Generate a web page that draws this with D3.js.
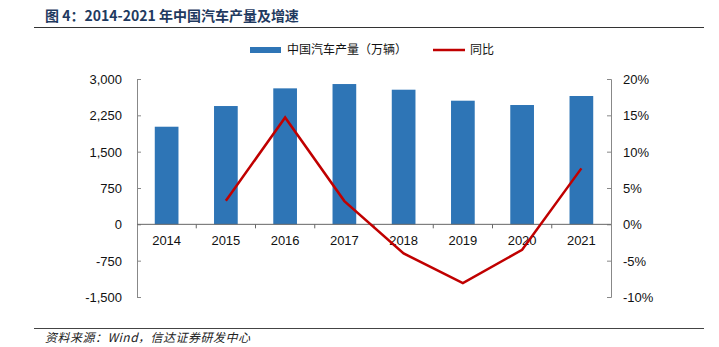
<!DOCTYPE html>
<html><head><meta charset="utf-8">
<script src="https://cdn.jsdelivr.net/npm/d3@7"></script>
<style>body{margin:0;background:#fff}svg{display:block}</style>
</head><body>
<script>
const categories = ["2014","2015","2016","2017","2018","2019","2020","2021"];
const production = [2015, 2442, 2807, 2896, 2779, 2552, 2463, 2649];
const yoy = [null, 3.25, 14.7, 3.2, -4.0, -8.1, -3.5, 7.7];
const leftTicks = [-1500, -750, 0, 750, 1500, 2250, 3000];
const rightTicks = [-10, -5, 0, 5, 10, 15, 20];
const title = "图 4：2014-2021 年中国汽车产量及增速";
const source = "资料来源：Wind，信达证券研发中心";
const legendNames = ["中国汽车产量（万辆）", "同比"];

const W = 719, H = 347;
const svg = d3.select("body").append("svg").attr("width", W).attr("height", H);
const L = 137, R = 611, T = 79, B = 297;
const font = "'Liberation Sans', Arial, sans-serif";
const cjk = "'Noto Sans CJK SC', sans-serif";

const x = d3.scaleBand().domain(categories).range([L, R]).paddingInner(0.6).paddingOuter(0.3);
const yL = d3.scaleLinear().domain([-1500, 3000]).range([B, T]);
const yR = d3.scaleLinear().domain([-10, 20]).range([B, T]);

// title
svg.append("text").attr("x", 45).attr("y", 21).text(title)
  .attr("font-family", cjk).attr("font-weight", "bold").attr("font-size", 14).attr("fill", "#1f3a60");
svg.append("line").attr("x1", 34).attr("x2", 704).attr("y1", 27.5).attr("y2", 27.5).attr("stroke", "#333").attr("stroke-width", 1.2);
// footer
svg.append("line").attr("x1", 34).attr("x2", 704).attr("y1", 328.5).attr("y2", 328.5).attr("stroke", "#444").attr("stroke-width", 1.2);
svg.append("text").attr("x", 45).attr("y", 342).text(source)
  .attr("font-family", cjk).attr("font-style", "italic").attr("font-size", 12).attr("letter-spacing", 0.5).attr("fill", "#222");

// bars
svg.append("g").selectAll("rect").data(production).join("rect")
  .attr("x", (d, i) => x(categories[i])).attr("width", x.bandwidth())
  .attr("y", d => yL(d)).attr("height", d => yL(0) - yL(d)).attr("fill", "#2E75B6");

// axes
const gray = "#888";
const axL = svg.append("g").attr("transform", `translate(${L},0)`)
  .call(d3.axisRight(yL).tickValues(leftTicks).tickSize(4).tickFormat(""));
axL.select(".domain").attr("stroke", gray);
axL.selectAll(".tick line").attr("stroke", gray);
svg.append("g").selectAll("text").data(leftTicks).join("text")
  .attr("x", 122).attr("y", d => yL(d) + 5).attr("text-anchor", "end")
  .attr("font-family", font).attr("font-size", 13).attr("fill", "#111")
  .text(d => d3.format(",")(d).replace("\u2212", "-"));

const axR = svg.append("g").attr("transform", `translate(${R},0)`)
  .call(d3.axisLeft(yR).tickValues(rightTicks).tickSize(4).tickFormat(""));
axR.select(".domain").attr("stroke", gray);
axR.selectAll(".tick line").attr("stroke", gray);
svg.append("g").selectAll("text").data(rightTicks).join("text")
  .attr("x", 623).attr("y", d => yR(d) + 5).attr("text-anchor", "start")
  .attr("font-family", font).attr("font-size", 13).attr("fill", "#111").text(d => d + "%");

// zero axis
const y0 = yL(0);
svg.append("line").attr("x1", L).attr("x2", R).attr("y1", y0).attr("y2", y0).attr("stroke", "#666").attr("stroke-width", 1);
const step = x.step();
svg.append("g").selectAll("line").data(categories.slice(1)).join("line")
  .attr("x1", d => x(d) - (step - x.bandwidth()) / 2).attr("x2", d => x(d) - (step - x.bandwidth()) / 2)
  .attr("y1", y0).attr("y2", y0 + 4).attr("stroke", "#666");
svg.append("g").selectAll("text").data(categories).join("text")
  .attr("x", d => x(d) + x.bandwidth() / 2).attr("y", 245).attr("text-anchor", "middle")
  .attr("font-family", font).attr("font-size", 13).attr("fill", "#111").text(d => d);

// line
const line = d3.line().defined(d => d != null)
  .x((d, i) => x(categories[i]) + x.bandwidth() / 2).y(d => yR(d));
svg.append("path").datum(yoy).attr("d", line).attr("fill", "none")
  .attr("stroke", "#C00000").attr("stroke-width", 2.5).attr("stroke-linejoin", "miter");

// legend
svg.append("rect").attr("x", 250).attr("y", 47).attr("width", 31).attr("height", 6).attr("fill", "#2E75B6");
svg.append("text").attr("x", 287).attr("y", 54).text(legendNames[0])
  .attr("font-family", cjk).attr("font-size", 12).attr("fill", "#111");
svg.append("line").attr("x1", 433).attr("x2", 465).attr("y1", 50).attr("y2", 50).attr("stroke", "#C00000").attr("stroke-width", 2.5);
svg.append("text").attr("x", 470).attr("y", 54).text(legendNames[1])
  .attr("font-family", cjk).attr("font-size", 12).attr("fill", "#111");
</script>
</body></html>
